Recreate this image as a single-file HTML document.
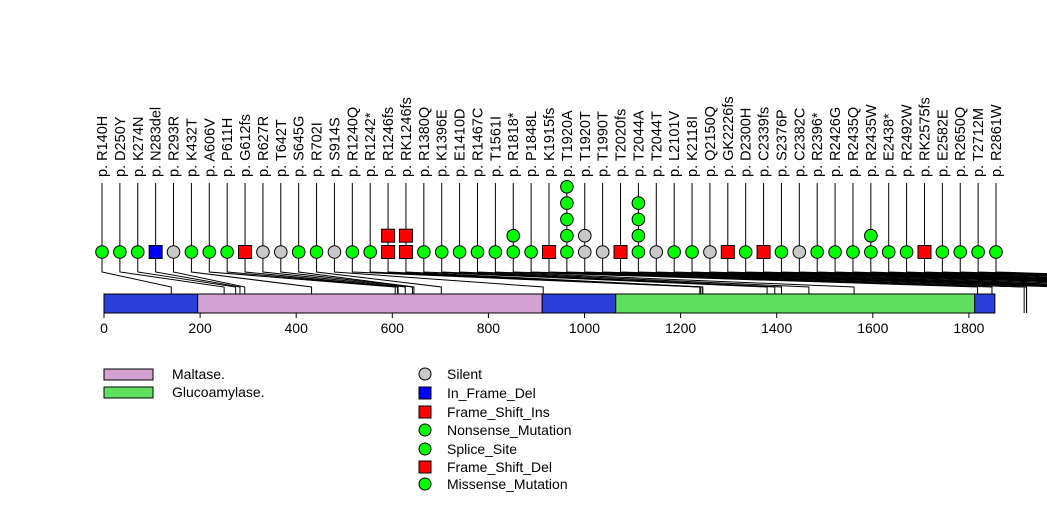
<!DOCTYPE html>
<html><head><meta charset="utf-8"><style>
html,body{margin:0;padding:0;background:#fff;}
svg{display:block;font-family:"Liberation Sans",sans-serif;}
</style></head><body>
<svg id="chart" width="1047" height="524" viewBox="0 0 1047 524" xmlns="http://www.w3.org/2000/svg">
<g id="connectors"></g>
<g id="domains"></g>
<g id="axis"></g>
<g id="lollis"></g>
<g id="legend"></g>
</svg>
<script>
const labels = ["R140H","D250Y","K274N","N283del","R293R","K432T","A606V","P611H","G612fs","R627R","T642T","S645G","R702I","S914S","R1240Q","R1242*","R1246fs","RK1246fs","R1380Q","K1396E","E1410D","R1467C","T1561I","R1818*","P1848L","K1915fs","T1920A","T1920T","T1990T","T2020fs","T2044A","T2044T","L2101V","K2118I","Q2150Q","GK2226fs","D2300H","C2339fs","S2376P","C2382C","R2396*","R2426G","R2435Q","R2435W","E2438*","R2492W","RK2575fs","E2582E","R2650Q","T2712M","R2861W"];
const positions = [140,250,274,283,293,432,606,611,612,627,642,645,702,914,1240,1242,1246,1246,1380,1396,1410,1467,1561,1818,1848,1915,1920,1920,1990,2020,2044,2044,2101,2118,2150,2226,2300,2339,2376,2382,2396,2426,2435,2435,2438,2492,2575,2582,2650,2712,2861];
const types = ["mis","mis","mis","del","sil","mis","mis","mis","fs","sil","sil","mis","mis","sil","mis","mis","fs","fs","mis","mis","mis","mis","mis","mis","mis","fs","mis","sil","sil","fs","mis","sil","mis","mis","sil","fs","mis","fs","mis","sil","mis","mis","mis","mis","mis","mis","fs","mis","mis","mis","mis"];
const counts = [1,1,1,1,1,1,1,1,1,1,1,1,1,1,1,1,2,2,1,1,1,1,1,2,1,1,5,2,1,1,4,1,1,1,1,1,1,1,1,1,1,1,1,2,1,1,1,1,1,1,1];
const domainNames = ["blue-region-1","Maltase","blue-region-2","Glucoamylase","blue-region-3"];
const domainStarts = [0,195,912,1065,1812];
const domainEnds = [195,912,1065,1812,1854];
const axisTicks = [0,200,400,600,800,1000,1200,1400,1600,1800];

const NS="http://www.w3.org/2000/svg";
function mk(t,a,p){const e=document.createElementNS(NS,t);for(const k in a)e.setAttribute(k,a[k]);p.appendChild(e);return e;}
const X = v => 104 + v*0.4805;
const colorFor = {mis:"#00ff00",sil:"#c8c8c8",fs:"#ff0000",del:"#0000ff"};
const domColor = {"Maltase":"#d4a2d0","Glucoamylase":"#5fe05f"};

const dg=document.getElementById('domains');
for(let i=0;i<domainNames.length;i++){
  const r=mk('rect',{x:X(domainStarts[i]),y:294,width:X(domainEnds[i])-X(domainStarts[i]),height:19,fill:domColor[domainNames[i]]||"#2a3fd8",stroke:"#000","stroke-width":1},dg);
  
  
}
const ag=document.getElementById('axis');
mk('line',{x1:X(0),x2:X(1800),y1:313,y2:313,stroke:"#000"},ag);
axisTicks.forEach(t=>{
  mk('line',{x1:X(t),x2:X(t),y1:313,y2:318,stroke:"#000"},ag);
  const tx=mk('text',{x:X(t),y:333,"font-size":14,"text-anchor":"middle"},ag);
  tx.textContent=t;
  
  
});
const cg=document.getElementById('connectors'), lg=document.getElementById('lollis');
const n=labels.length;
for(let i=0;i<n;i++){
  const lx=102+i*(996-102)/(n-1);
  const px=X(positions[i]);
  const pl=mk('polyline',{points:`${lx},183 ${lx},272 ${px},287 ${px},313`,fill:"none",stroke:"#000","stroke-width":1},cg);
  
  
  for(let c=0;c<counts[i];c++){
    const cy=252-c*16.3;
    const col=colorFor[types[i]];
    let m;
    if(types[i]==="fs"||types[i]==="del") m=mk('rect',{x:lx-6.5,y:cy-6.5,width:13,height:13,fill:col,stroke:"#000"},lg);
    else m=mk('circle',{cx:lx,cy:cy,r:6.3,fill:col,stroke:"#000"},lg);
    
    
  }
  const t=mk('text',{transform:`translate(${lx+5},177) rotate(-90)`,"font-size":14.5},lg);
  t.textContent="p. "+labels[i];
  
  
}
const leg=document.getElementById('legend');
[["Maltase.","#d4a2d0",369],["Glucoamylase.","#5fe05f",387]].forEach(d=>{
  const r=mk('rect',{x:104,y:d[2],width:49,height:11,fill:d[1],stroke:"#000"},leg);
  
  
  const t=mk('text',{x:172,y:d[2]+10,"font-size":14},leg);
  t.textContent=d[0];
  
  
});
const legItems=[["Silent","c","#c8c8c8"],["In_Frame_Del","s","#0000ff"],["Frame_Shift_Ins","s","#ff0000"],["Nonsense_Mutation","c","#00ff00"],["Splice_Site","c","#00ff00"],["Frame_Shift_Del","s","#ff0000"],["Missense_Mutation","c","#00ff00"]];
const legY=[374,393,412,430,449,467,484];
legItems.forEach((d,i)=>{
  const y=legY[i];
  let m;
  if(d[1]==="c") m=mk('circle',{cx:425,cy:y,r:6,fill:d[2],stroke:"#000"},leg);
  else m=mk('rect',{x:419,y:y-6,width:12,height:12,fill:d[2],stroke:"#000"},leg);
  
  
  const t=mk('text',{x:447,y:y+5,"font-size":14},leg);
  t.textContent=d[0];
  
  
});
</script>
</body></html>
